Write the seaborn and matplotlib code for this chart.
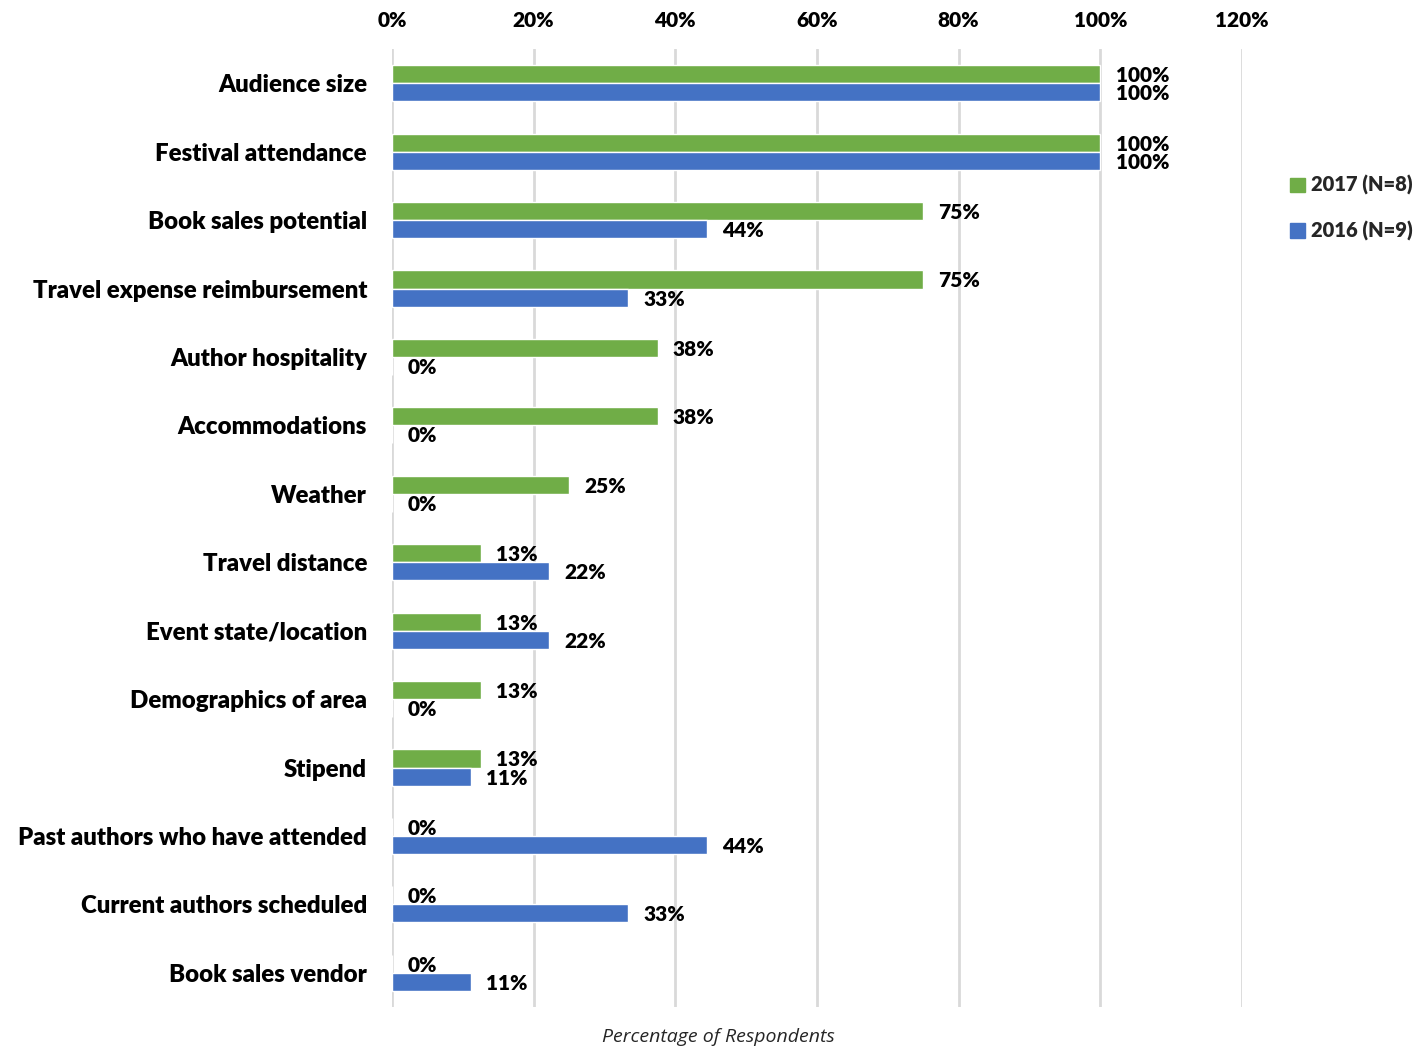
import matplotlib
matplotlib.use("Agg")
import matplotlib.pyplot as plt
import seaborn as sns
import pandas as pd
from matplotlib.ticker import PercentFormatter
from matplotlib.patches import Patch

categories = ["Audience size", "Festival attendance", "Book sales potential",
              "Travel expense reimbursement", "Author hospitality", "Accommodations",
              "Weather", "Travel distance", "Event state/location", "Demographics of area",
              "Stipend", "Past authors who have attended", "Current authors scheduled",
              "Book sales vendor"]
vals_2017 = [100, 100, 75, 75, 37.5, 37.5, 25, 12.5, 12.5, 12.5, 12.5, 0, 0, 0]
vals_2016 = [100, 100, 44.4, 33.3, 0, 0, 0, 22.2, 22.2, 0, 11.1, 44.4, 33.3, 11.1]
series = ["2017 (N=8)", "2016 (N=9)"]
colors = ["#70AD47", "#4472C4"]
xticks = [0, 20, 40, 60, 80, 100, 120]

df = pd.DataFrame({
    "Category": categories * 2,
    "Value": vals_2017 + vals_2016,
    "Series": [series[0]] * len(categories) + [series[1]] * len(categories),
})

sns.set_theme(style="white")
plt.rcParams["font.family"] = ["Lato", "DejaVu Sans"]
W = "heavy"

fig = plt.figure(figsize=(14.2, 10.46), dpi=100)
ax = fig.add_axes([392/1420, 1 - 1007/1046, 850/1420, 958/1046])

sns.barplot(data=df, y="Category", x="Value", hue="Series", order=categories,
            hue_order=series, palette=colors, orient="h", width=0.53,
            saturation=1, ax=ax, legend=False)

ax.set_xlim(0, 120)
ax.set_xticks(xticks)
ax.xaxis.set_major_formatter(PercentFormatter(decimals=0))
ax.xaxis.tick_top()
ax.tick_params(axis="x", length=0, pad=14, labelsize=15, labelcolor="black")
ax.tick_params(axis="y", length=0, pad=18, labelsize=17.3, labelcolor="black")
for t in ax.get_xticklabels() + ax.get_yticklabels():
    t.set_fontweight(W)
ax.grid(axis="x", color="#D9D9D9", linewidth=2)
ax.set_axisbelow(True)
for s in ax.spines.values():
    s.set_visible(False)
ax.set_ylabel("")
ax.set_xlabel("")

for cont, vals in zip(ax.containers, [vals_2017, vals_2016]):
    labels = [f"{int(v + 0.5)}%" for v in vals]
    texts = ax.bar_label(cont, labels=labels, padding=11, fontsize=15, fontweight=W, color="black")
    for t in texts:
        t.set_va("center_baseline")

handles = [Patch(color=c, label=s) for c, s in zip(colors, series)]
fig.legend(handles=handles, loc="center left", bbox_to_anchor=(1290/1420, 1 - 208/1046),
           frameon=False, prop={"weight": W, "size": 14.5},
           borderpad=0, borderaxespad=0,
           handlelength=0.75, handleheight=0.75, handletextpad=0.3, labelspacing=1.25)

fig.text(718/1420, 1 - 1037/1046, "Percentage of Respondents", ha="center", va="center",
         fontsize=14, fontstyle="italic", family=["Open Sans", "DejaVu Sans"])

fig.savefig("out.png", dpi=100)
